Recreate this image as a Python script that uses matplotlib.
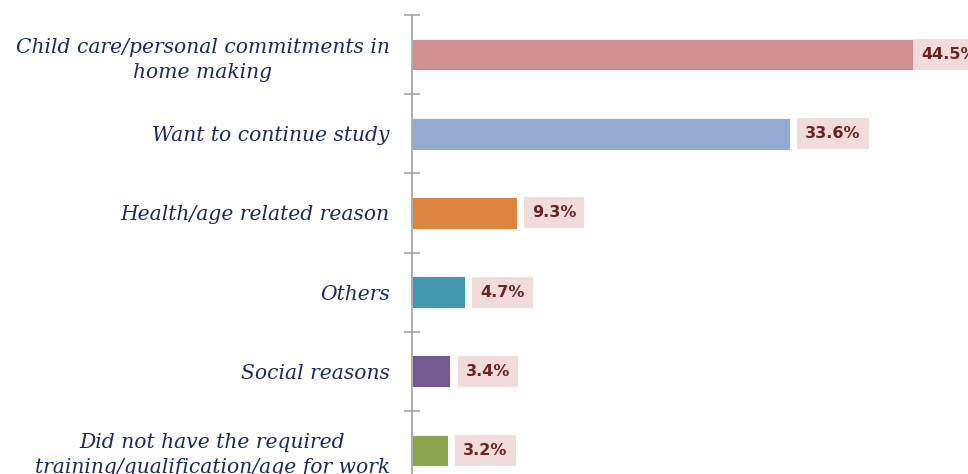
import matplotlib.pyplot as plt
import numpy as np

reasons = [
    "Child care/personal commitments in\nhome making",
    "Want to continue study",
    "Health/age related reason",
    "Others",
    "Social reasons",
    "Did not have the required\ntraining/qualification/age for work",
]
shares = [44.5, 33.6, 9.3, 4.7, 3.4, 3.2]
bar_colors = ["#d09091", "#94aad0", "#dd843f", "#4299ae", "#735a90", "#8aa54e"]

fig = plt.figure(figsize=(9.68, 4.74), dpi=100)
# axes run past the bottom edge so the last row is cut off
ax = fig.add_axes([412 / 968, 1 - 490 / 474, 556 / 968, 475 / 474])

y = np.arange(len(reasons))
ax.barh(y, shares, height=0.4, color=bar_colors, edgecolor="white", linewidth=0.6)
ax.set_ylim(len(reasons) - 0.5, -0.5)
ax.set_xlim(0, 556 / 11.25)

for i, v in enumerate(shares):
    gap = 0 if v == max(shares) else 5
    ax.annotate(f"{v}%", xy=(v, i), xytext=(gap + 6, 0), textcoords="offset points",
                ha="left", va="center", fontsize=11.5, fontweight="bold",
                color="#6b2424", family="DejaVu Sans",
                bbox=dict(boxstyle="square,pad=0.5", fc="#f2dcdb", ec="none"))

ax.set_yticks(y)
ax.set_yticklabels(reasons, fontsize=14.6, style="italic", family="DejaVu Serif",
                   color="#1b2964", multialignment="center", linespacing=1.4)
ax.tick_params(axis="y", which="major", length=0, pad=16)
ax.set_yticks(np.arange(-0.5, len(reasons)), minor=True)
ax.tick_params(axis="y", which="minor", direction="inout", length=11,
               width=1.1, color="#a0a0a0")

ax.set_xticks([])
for side in ["top", "right", "bottom"]:
    ax.spines[side].set_visible(False)
ax.spines["left"].set_color("#a0a0a0")
ax.spines["left"].set_linewidth(1.2)

fig.savefig("out.png", dpi=100)
